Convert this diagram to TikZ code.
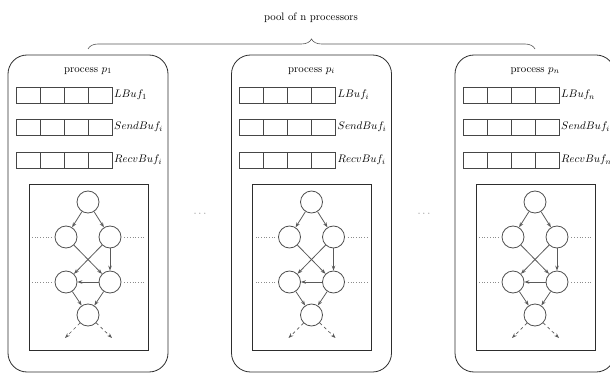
\documentclass[tikz,border=0pt]{standalone}
\usepackage{tikz}
\usepackage{xcolor}
\usetikzlibrary{calc,decorations.pathreplacing,arrows.meta}
\definecolor{boxline}{RGB}{45,45,45}
\definecolor{taskline}{RGB}{80,80,80}
\definecolor{depcolor}{RGB}{90,90,90}
\definecolor{dotcolor}{RGB}{140,140,140}
\definecolor{bufline}{RGB}{70,70,70}

\begin{document}
\begin{tikzpicture}[x=1pt,y=-1pt,
  every node/.style={font=\fontsize{10.8}{13}\selectfont},
  proc/.style={draw=boxline, line width=0.8pt, rounded corners=19pt},
  bufcell/.style={draw=bufline, line width=0.6pt},
  buflabel/.style={anchor=west, inner sep=1pt, font=\fontsize{11.3}{13}\selectfont},
  taskbox/.style={draw=boxline, line width=0.7pt},
  task/.style={circle, draw=taskline, line width=0.8pt, minimum size=22pt, inner sep=0pt},
  dep/.style={draw=depcolor, line width=0.8pt, -{Stealth[length=5pt,width=3.6pt]}},
  outdep/.style={draw=depcolor, line width=0.7pt, dashed, -{Stealth[length=5pt,width=3.6pt]}},
  level/.style={draw=dotcolor, line width=0.7pt, dotted},
  pbrace/.style={draw=boxline!80, line width=0.6pt, decorate, decoration={brace, amplitude=10pt}}
]

\useasboundingbox (0,0) rectangle (610,374);
\clip (0,0) rectangle (610,374);

% 1. POOL TITLE & BRACE
\node (pool) at (311,18) {pool of n processors};
\coordinate (braceL) at (88,49);
\coordinate (braceR) at (535,49);
\draw[pbrace] (braceL) -- (braceR);

% 2. PROCESSES
\foreach \k/\px/\pl/\ps/\pr in {0/1/1/i/i, 1/i/i/i/i, 2/n/n/i/n} {
\begin{scope}[xshift=\k*223.5pt]
% Process frame & name
\draw[proc] (8,55) rectangle (168,372);
\node (name\k) at (88,71) {process $p_{\px}$};

% Buffers
\foreach \c in {0,...,3} {
  \draw[bufcell] (16+24*\c,87) rectangle +(24,16);
  \draw[bufcell] (16+24*\c,119) rectangle +(24,16);
  \draw[bufcell] (16+24*\c,152) rectangle +(24,16);
}
\node[buflabel] (lbuf\k) at (113,95) {$LBuf_{\pl}$};
\node[buflabel] (sbuf\k) at (113,127) {$SendBuf_{\ps}$};
\node[buflabel] (rbuf\k) at (113,160) {$RecvBuf_{\pr}$};

% Task graph
\draw[taskbox] (29,184) rectangle (148,350);
\node[task] (ta\k) at (88,202) {};
\node[task] (tb\k) at (66,237) {};
\node[task] (tc\k) at (110,237) {};
\node[task] (td\k) at (66,282) {};
\node[task] (te\k) at (110,282) {};
\node[task] (tf\k) at (88,315) {};
\draw[dep] (ta\k) -- (tb\k);
\draw[dep] (ta\k) -- (tc\k);
\draw[dep] (tb\k) -- (te\k);
\draw[dep] (tc\k) -- (td\k);
\draw[dep] (tc\k) -- (te\k);
\draw[dep] (te\k) -- (td\k);
\draw[dep] (td\k) -- (tf\k);
\draw[dep] (te\k) -- (tf\k);
\coordinate (outL\k) at (65,338);
\coordinate (outR\k) at (112,338);
\draw[outdep] (tf\k) -- (outL\k);
\draw[outdep] (tf\k) -- (outR\k);
% Level marks
\draw[level] ($(tb\k.west)+(-3,0)$) -- +(-20,0);
\draw[level] ($(tc\k.east)+(3,0)$) -- +(20,0);
\draw[level] ($(td\k.west)+(-3,0)$) -- +(-20,0);
\draw[level] ($(te\k.east)+(3,0)$) -- +(20,0);
\end{scope}
}

% 3. GAPS BETWEEN PROCESSES
\node[text=dotcolor] (gapA) at (200,214) {$\cdots$};
\node[text=dotcolor] (gapB) at (424,214) {$\cdots$};

\end{tikzpicture}
\end{document}
